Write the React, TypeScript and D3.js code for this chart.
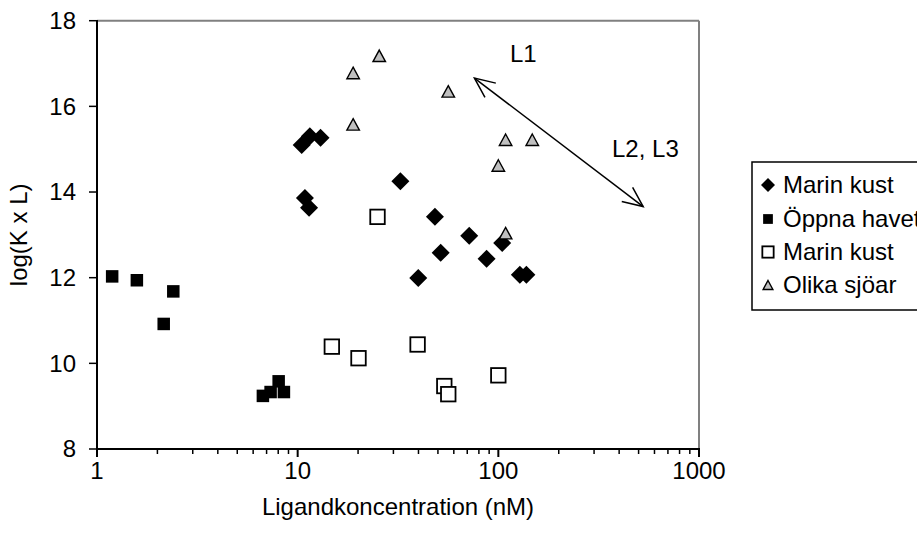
import React from "react";
import * as d3 from "d3";

// chart values
const marinKust: [number, number][] = [
  [10.47, 15.1], [11.5, 15.3], [13.0, 15.27], [10.87, 13.86], [11.4, 13.63],
  [32.5, 14.25], [48.3, 13.42], [71.6, 12.98], [51.6, 12.58], [87.4, 12.44],
  [104.5, 12.81], [39.9, 11.99], [128, 12.07], [138, 12.07],
];
const oppnaHavet: [number, number][] = [
  [1.19, 12.03], [1.58, 11.94], [2.4, 11.68], [2.15, 10.92],
  [6.71, 9.24], [7.33, 9.33], [8.04, 9.58], [8.54, 9.33],
];
const marinKustOpen: [number, number][] = [
  [25.0, 13.42], [14.8, 10.39], [20.1, 10.12], [39.6, 10.44],
  [53.8, 9.47], [56.3, 9.28], [100, 9.72],
];
const olikaSjoar: [number, number][] = [
  [18.9, 16.78], [25.5, 17.18], [18.9, 15.58], [56.3, 16.35],
  [108.7, 15.22], [147.6, 15.22], [100, 14.62], [108.7, 13.04],
];
const arrowEnds: [number, number][] = [[76, 16.66], [527, 13.66]];
const yTicks = [8, 10, 12, 14, 16, 18];
const xTicks = [1, 10, 100, 1000];
const legendLabels = ["Marin kust", "Öppna havet", "Marin kust", "Olika sjöar"];

const W = 917;
const H = 543;
const FONT = "'Liberation Sans', Arial, sans-serif";

const x = d3.scaleLog().domain([1, 1000]).range([97, 699]);
const y = d3.scaleLinear().domain([8, 18]).range([449, 20.7]);

const diamond = (cx: number, cy: number, r: number) =>
  `M${cx},${cy - r}L${cx + r},${cy}L${cx},${cy + r}L${cx - r},${cy}Z`;
const triangle = (cx: number, cy: number, w: number, h: number) =>
  `M${cx},${cy - h / 2}L${cx + w / 2},${cy + h / 2}L${cx - w / 2},${cy + h / 2}Z`;

function Marker({ kind, cx, cy, s = 1 }: { kind: number; cx: number; cy: number; s?: number }) {
  if (kind === 0) return <path d={diamond(cx, cy, 9 * s)} fill="#000" />;
  if (kind === 1) {
    const a = 12.5 * s;
    return <rect x={cx - a / 2} y={cy - a / 2} width={a} height={a} fill="#000" />;
  }
  if (kind === 2) {
    const a = 14.5 * s;
    return (
      <rect x={cx - a / 2} y={cy - a / 2} width={a} height={a} fill="#fff" stroke="#000" strokeWidth={1.8} />
    );
  }
  return (
    <path d={triangle(cx, cy, 12.5 * s, 11.5 * s)} fill="#c0c0c0" stroke="#000" strokeWidth={1.4} />
  );
}

export default function App() {
  const series = [marinKust, oppnaHavet, marinKustOpen, olikaSjoar];
  const minor: number[] = [];
  for (let d = 1; d < 1000; d *= 10) for (let k = 2; k <= 9; k++) minor.push(d * k);

  const [a0, a1] = arrowEnds.map(([vx, vy]) => [x(vx), y(vy)]);
  const ang = Math.atan2(a1[1] - a0[1], a1[0] - a0[0]);
  const head = (px: number, py: number, dir: number) => {
    const L = 22, spread = 0.42;
    const p1 = [px + L * Math.cos(dir + spread), py + L * Math.sin(dir + spread)];
    const p2 = [px + L * Math.cos(dir - spread), py + L * Math.sin(dir - spread)];
    return `M${p1[0]},${p1[1]}L${px},${py}L${p2[0]},${p2[1]}`;
  };

  const legendY = [185, 219, 252, 285];

  return (
    <svg width={W} height={H} style={{ position: "absolute", left: 0, top: 0 }} fontFamily={FONT}>
      <rect width={W} height={H} fill="#fff" />

      {/* plot frame */}
      <line x1={97} x2={699} y1={20.7} y2={20.7} stroke="#808080" strokeWidth={2} />
      <line x1={699} x2={699} y1={20.7} y2={449} stroke="#808080" strokeWidth={2} />

      {/* y axis */}
      <line x1={97} x2={97} y1={20} y2={449} stroke="#000" strokeWidth={2} />
      {yTicks.map((t) => (
        <g key={t}>
          <line x1={89} x2={97} y1={y(t)} y2={y(t)} stroke="#000" strokeWidth={1.5} />
          <text x={76} y={y(t)} dy="0.35em" textAnchor="end" fontSize={24}>
            {t}
          </text>
        </g>
      ))}

      {/* x axis */}
      <line x1={97} x2={700} y1={449} y2={449} stroke="#000" strokeWidth={2} />
      {minor.map((t) => (
        <line key={t} x1={x(t)} x2={x(t)} y1={449} y2={454} stroke="#000" strokeWidth={1.5} />
      ))}
      {xTicks.map((t) => (
        <g key={t}>
          <line x1={x(t)} x2={x(t)} y1={449} y2={457} stroke="#000" strokeWidth={2} />
          <text x={x(t)} y={479} textAnchor="middle" fontSize={24}>
            {t}
          </text>
        </g>
      ))}

      <text x={398} y={515} textAnchor="middle" fontSize={24}>
        Ligandkoncentration (nM)
      </text>
      <text transform={`translate(27,${(20.7 + 449) / 2}) rotate(-90)`} textAnchor="middle" fontSize={24}>
        log(K x L)
      </text>

      {/* points */}
      {series.map((pts, k) =>
        pts.map(([vx, vy], i) => <Marker key={`${k}-${i}`} kind={k} cx={x(vx)} cy={y(vy)} />)
      )}

      {/* arrow */}
      <line x1={a0[0]} y1={a0[1]} x2={a1[0]} y2={a1[1]} stroke="#000" strokeWidth={1.5} />
      <path d={head(a0[0], a0[1], ang)} fill="none" stroke="#000" strokeWidth={1.5} />
      <path d={head(a1[0], a1[1], ang + Math.PI)} fill="none" stroke="#000" strokeWidth={1.5} />
      <text x={510} y={62} fontSize={24}>L1</text>
      <text x={612} y={157} fontSize={24}>L2, L3</text>

      {/* legend */}
      <rect x={752} y={162} width={200} height={148} fill="#fff" stroke="#000" strokeWidth={1.5} />
      {legendLabels.map((lab, i) => (
        <g key={i}>
          <Marker kind={i} cx={768} cy={legendY[i]} s={0.78} />
          <text x={783} y={legendY[i]} dy="0.35em" fontSize={24}>
            {lab}
          </text>
        </g>
      ))}
    </svg>
  );
}
